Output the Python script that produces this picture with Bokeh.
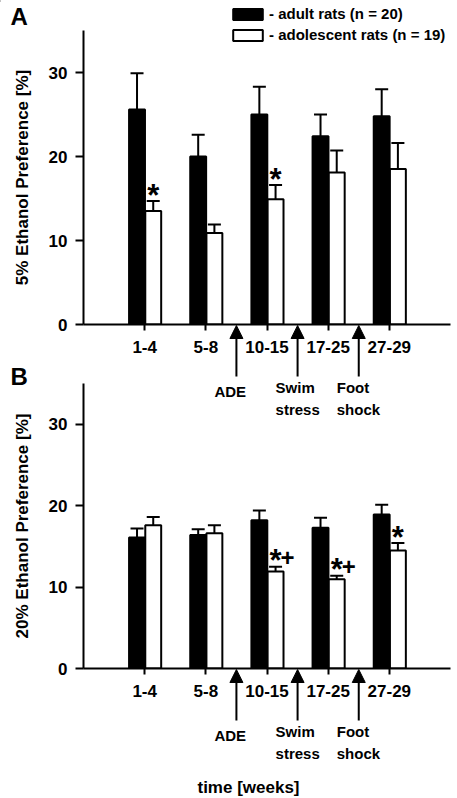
import numpy as np
from bokeh.plotting import figure
from bokeh.models import (ColumnDataSource, Range1d, FixedTicker, Whisker, TeeHead,
                          Arrow, NormalHead, Label, Legend, LegendItem)
from bokeh.layouts import column
from bokeh.embed import file_html
from bokeh.resources import INLINE
from bokeh.core.properties import value

# ---------------- data ----------------
weeks = ["1-4", "5-8", "10-15", "17-25", "27-29"]

adult_5 = [25.6, 20.0, 25.0, 22.4, 24.8]
adult_5_sem = [4.3, 2.6, 3.3, 2.6, 3.2]
adol_5 = [13.5, 10.9, 14.9, 18.1, 18.5]
adol_5_sem = [1.2, 1.0, 1.7, 2.6, 3.1]

adult_20 = [16.1, 16.4, 18.2, 17.3, 18.9]
adult_20_sem = [1.1, 0.7, 1.2, 1.2, 1.2]
adol_20 = [17.6, 16.6, 11.9, 10.95, 14.5]
adol_20_sem = [1.0, 1.0, 0.6, 0.45, 0.9]

stars_5 = ["1-4", "10-15"]
plus_5 = []
stars_20 = ["10-15", "17-25", "27-29"]
plus_20 = ["10-15", "17-25"]

events = ["ADE", "Swim\nstress", "Foot\nshock"]
event_between = [("5-8", "10-15"), ("10-15", "17-25"), ("17-25", "27-29")]

legend_labels = ["- adult rats (n = 20)", "- adolescent rats (n = 19)"]
y_ticks = [0, 10, 20, 30]
Y_MAX = 35

# ---------------- style / layout ----------------
FONT = "Liberation Sans"
W, H = 457, 798
LEFT, RIGHT = 83, 7
BAR_W = 0.26
OFF_ADULT = -0.125
OFF_ADOL = 0.14
N = len(weeks)
UX = (W - LEFT - RIGHT) / (N + 1)   # px per x unit
pos = np.arange(1, N + 1)
idx = {w: i for i, w in enumerate(weeks)}

ADULT_STYLE = dict(fill_color="black", line_color="black", line_width=2)
ADOL_STYLE = dict(fill_color="white", line_color="black", line_width=2)


def make_panel(ylabel, adult, adult_sem, adol, adol_sem, stars, plus,
               height, top, bottom):
    p = figure(width=W, height=height, x_range=Range1d(0, N + 1),
               y_range=Range1d(0, Y_MAX), output_backend="svg", toolbar_location=None,
               min_border_left=LEFT, min_border_right=RIGHT, min_border_top=top,
               min_border_bottom=bottom, title=None)
    p.grid.visible = False
    p.outline_line_color = None
    p.background_fill_color = None
    p.border_fill_color = None

    src = ColumnDataSource(dict(
        xa=pos + OFF_ADULT, xb=pos + OFF_ADOL,
        a=adult, ae=np.add(adult, adult_sem),
        b=adol, be=np.add(adol, adol_sem)))

    p.vbar(x="xa", top="a", width=BAR_W, source=src, **ADULT_STYLE)
    p.vbar(x="xb", top="b", width=BAR_W, source=src, **ADOL_STYLE)
    for xk, lo, hi in (("xa", "a", "ae"), ("xb", "b", "be")):
        p.add_layout(Whisker(source=src, base=xk, lower=lo, upper=hi, level="overlay",
                             line_width=2, line_color="black", lower_head=None,
                             upper_head=TeeHead(size=13, line_width=2, line_color="black")))

    # significance marks
    s_src = ColumnDataSource(dict(
        x=[pos[idx[w]] + OFF_ADOL for w in stars],
        y=[adol[idx[w]] + adol_sem[idx[w]] for w in stars],
        t=["*"] * len(stars)))
    p.text(x="x", y="y", text="t", source=s_src, text_font=value(FONT),
           text_font_style="bold", text_font_size="31px", text_align="center",
           text_baseline="alphabetic", y_offset=-6, text_color="black")
    if plus:
        p_src = ColumnDataSource(dict(
            x=[pos[idx[w]] + OFF_ADOL for w in plus],
            y=[adol[idx[w]] + adol_sem[idx[w]] for w in plus],
            t=["+"] * len(plus)))
        p.text(x="x", y="y", text="t", source=p_src, text_font=value(FONT),
               text_font_style="bold", text_font_size="24px", text_align="center",
               text_baseline="alphabetic", x_offset=12, y_offset=-9, text_color="black")

    # axes
    xa = p.xaxis[0]
    xa.ticker = FixedTicker(ticks=[int(v) for v in pos])
    xa.major_label_overrides = {int(k): w for k, w in zip(pos, weeks)}
    ya = p.yaxis[0]
    ya.ticker = FixedTicker(ticks=y_ticks)
    ya.axis_label = ylabel
    ya.axis_label_standoff = 14
    ya.axis_label_text_font = FONT
    ya.axis_label_text_font_size = "17px"
    ya.axis_label_text_font_style = "bold"
    ya.axis_label_text_color = "black"
    for ax, tout, stand in ((xa, 6, 10), (ya, 8, 8)):
        ax.axis_line_width = 2
        ax.axis_line_color = "black"
        ax.major_tick_line_width = 2
        ax.major_tick_line_color = "black"
        ax.major_tick_out = tout
        ax.major_tick_in = 0
        ax.minor_tick_out = 0
        ax.minor_tick_in = 0
        ax.major_label_standoff = stand
        ax.major_label_text_font = FONT
        ax.major_label_text_font_size = "17px"
        ax.major_label_text_font_style = "bold"
        ax.major_label_text_color = "black"
    return p


# panel A: frame page y 30..324
A_H, A_TOP, A_BOT = 420, 30, 96
pA = make_panel("5% Ethanol Preference [%]", adult_5, adult_5_sem, adol_5, adol_5_sem,
                stars_5, plus_5, height=A_H, top=A_TOP, bottom=A_BOT)
# panel B: placed at page y 360, frame 383..668
B_Y, B_H, B_TOP, B_BOT = 360, 438, 23, 130
pB = make_panel("20% Ethanol Preference [%]", adult_20, adult_20_sem, adol_20, adol_20_sem,
                stars_20, plus_20, height=B_H, top=B_TOP, bottom=B_BOT)
pB.margin = (B_Y - A_H, 0, 0, 0)

# overlay (full page, y in page pixels, x in the panels' units) for annotations
ov = figure(width=W, height=H, x_range=Range1d(-LEFT / UX, (W - LEFT) / UX),
            y_range=Range1d(H, 0), x_axis_type=None, y_axis_type=None,
            output_backend="svg", toolbar_location=None, min_border=0, title=None)
ov.frame_align = False
ov.grid.visible = False
ov.outline_line_color = None
ov.background_fill_color = None
ov.border_fill_color = None
ov.margin = (-H, 0, 0, 0)


def sx(px):
    return (px - LEFT) / UX


lab_kw = dict(text_font=FONT, text_font_size="15px", text_font_style="bold",
              text_color="black", text_align="left", text_baseline="alphabetic",
              x_offset=-22)
axis_y = [A_TOP + (A_H - A_TOP - A_BOT), B_Y + B_TOP + (B_H - B_TOP - B_BOT)]
for ay in axis_y:
    for ev, (w0, w1) in zip(events, event_between):
        xm = (pos[idx[w0]] + pos[idx[w1]]) / 2
        ov.add_layout(Arrow(x_start=xm, y_start=ay + 52, x_end=xm, y_end=ay + 1,
                            line_width=2, line_color="black",
                            end=NormalHead(size=13, fill_color="black", line_color="black",
                                           line_width=1)))
        lines = ev.split("\n")
        if len(lines) == 1:
            ov.add_layout(Label(x=xm, y=ay + 66.5, text=lines[0], **lab_kw))
        else:
            ov.add_layout(Label(x=xm, y=ay + 62.5, text=lines[0], **lab_kw))
            ov.add_layout(Label(x=xm, y=ay + 84.5, text=lines[1], **lab_kw))

for letter, base in (("A", 16), ("B", 376)):
    ov.add_layout(Label(x=sx(10), y=base, text=letter, text_font=FONT,
                        text_font_size="24px", text_font_style="bold",
                        text_color="black", text_baseline="alphabetic"))

ov.add_layout(Label(x=sx(248), y=axis_y[1] + 118.5, text="time [weeks]", text_font=FONT,
                    text_font_size="17px", text_font_style="bold", text_color="black",
                    text_align="center", text_baseline="alphabetic"))

# legend: proxy renderers carrying the bar styles, placed off the visible page
proxy = ColumnDataSource(dict(x=[-100.0], top=[0.0]))
la = ov.vbar(x="x", top="top", width=BAR_W, source=proxy, **ADULT_STYLE)
lb = ov.vbar(x="x", top="top", width=BAR_W, source=proxy, **ADOL_STYLE)
ov.add_layout(Legend(items=[LegendItem(label=legend_labels[0], renderers=[la]),
                            LegendItem(label=legend_labels[1], renderers=[lb])],
                     location=(229, H - 43), orientation="vertical",
                     glyph_width=37, glyph_height=14, label_height=14, label_standoff=3,
                     spacing=4, padding=0, margin=0, border_line_color=None,
                     background_fill_alpha=0, label_text_font=FONT,
                     label_text_font_size="15px", label_text_font_style="bold",
                     label_text_color="black"))

layout = column(pA, pB, ov)
open("out.html", "w").write(file_html(layout, INLINE))
